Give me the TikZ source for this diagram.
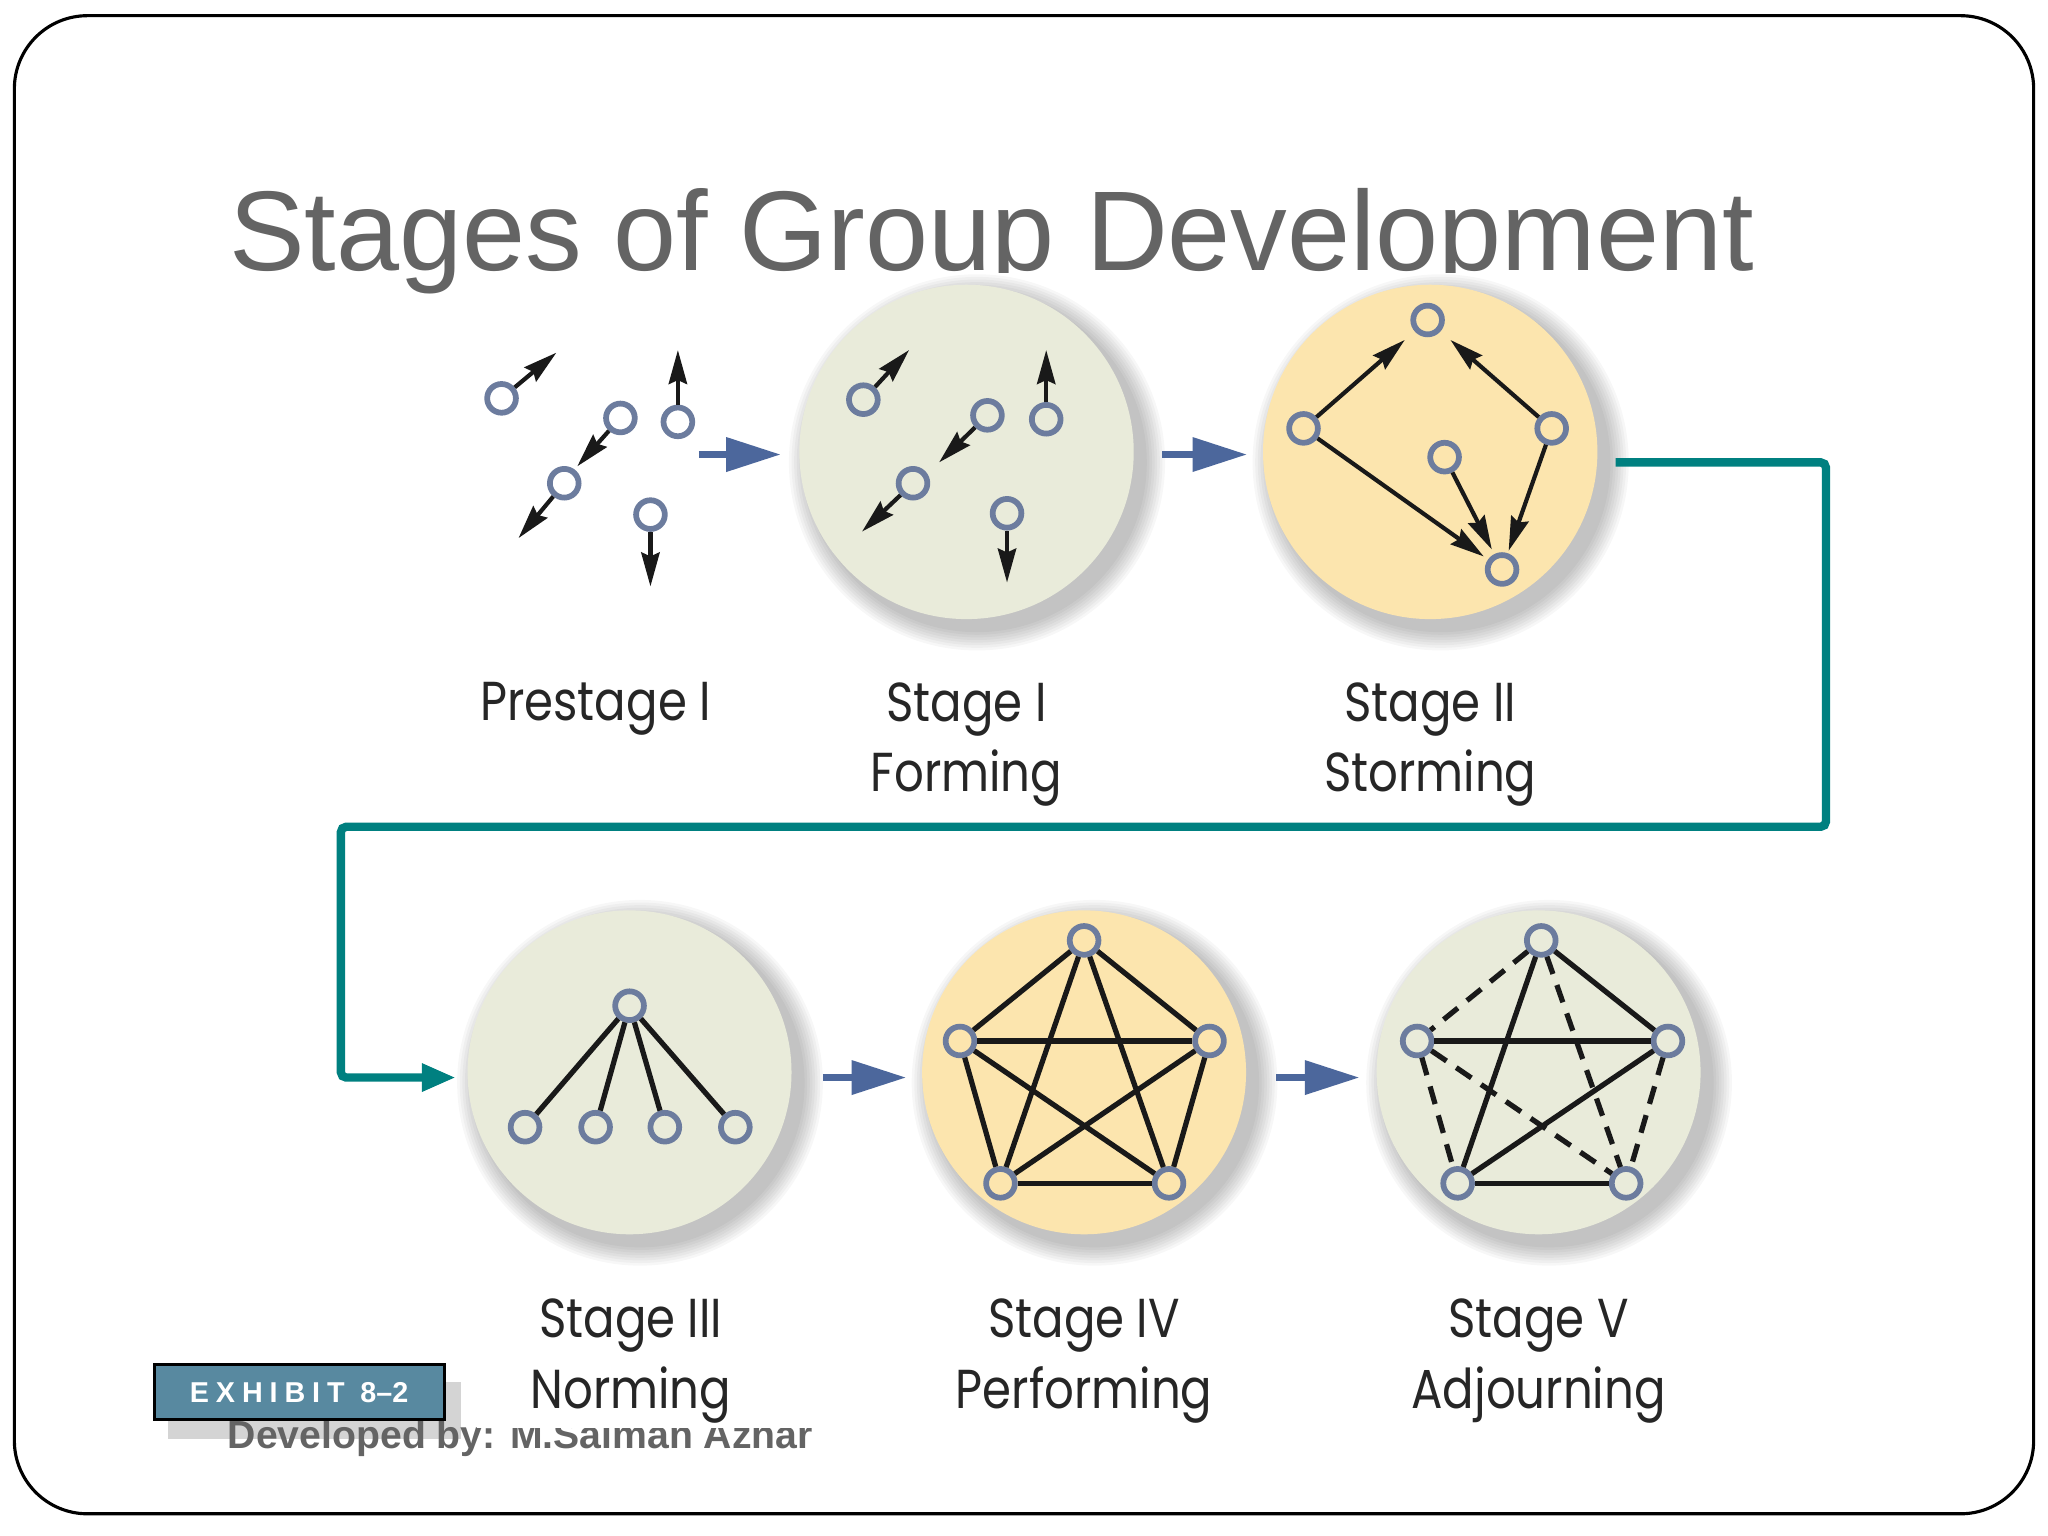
\documentclass[tikz,border=0pt]{standalone}
\usepackage{fontspec}
\setmainfont{Liberation Sans}
\newfontfamily\stagefont[FakeStretch=0.85]{Poppins}
\newfontfamily\tagfont[LetterSpace=24]{Liberation Sans}
\usetikzlibrary{positioning,arrows.meta}

\definecolor{slidegray}{RGB}{100,100,100}
\definecolor{sage}{RGB}{233,235,218}
\definecolor{cream}{RGB}{252,229,174}
\definecolor{ring}{RGB}{108,124,158}
\definecolor{flowblue}{RGB}{76,103,156}
\definecolor{trackteal}{RGB}{0,128,128}
\definecolor{tagblue}{RGB}{88,137,160}
\definecolor{tagshade}{RGB}{212,212,212}

\tikzset{
  member/.style={circle,draw=ring,line width=2.2pt,inner sep=0pt,minimum size=11pt},
  tie/.style={line width=2pt,black!90},
  loosetie/.style={tie,dash pattern=on 7pt off 4.5pt},
  move/.style={->,line width=1.6pt,black!90},
  flow/.style={-{Triangle[length=21pt,width=12.5pt]},line width=3pt,flowblue},
  track/.style={-{Triangle[length=13pt,width=10pt]},line width=3.2pt,trackteal,rounded corners=2pt},
  stagename/.style={align=center,inner sep=0pt,anchor=north,text=black!85,
    font=\stagefont\fontsize{21}{27}\selectfont},
}

\begin{document}
\begin{tikzpicture}[x=0.5pt,y=-0.5pt,>={Stealth[length=13pt,width=7pt,inset=1.5pt]}]
    \useasboundingbox (0,0) rectangle (1568,1176);
    \draw[line width=1.2pt,rounded corners=28pt,fill=white] (11,12) rectangle (1557,1159);

    \begin{scope}
      \clip (0,0) -- (1568,0) -- (1568,208.5) -- (600,208.5) -- (600,260) -- (0,260) -- cycle;
      \node[anchor=base west,inner sep=0pt,text=slidegray,font=\fontsize{43.4}{52}\selectfont]
        (title) at (175,207) {Stages of Group Development};
    \end{scope}

    \foreach \cx/\cy/\rr/\tint in {740/346/128/sage,1095/346/128/cream,
        482/821/124/sage,830/821/124/cream,1178/821/124/sage}{
      \foreach \k in {1,...,8}
        \fill[black,opacity=0.03] (\cx+8,\cy+8) circle[radius=\rr+2*\k];
      \fill[\tint] (\cx,\cy) circle[radius=\rr];
    }

    % prestage
    \node[member] (a1) at (384,305) {};
    \node[member] (a2) at (475,320) {};
    \node[member] (a3) at (519,323) {};
    \node[member] (a4) at (432,370) {};
    \node[member] (a5) at (498,394) {};
    \coordinate (a1e) at (426,270);
    \coordinate (a2e) at (442,357);
    \coordinate (a3e) at (519,268);
    \coordinate (a4e) at (397,412);
    \coordinate (a5e) at (498,449);
    \foreach \m in {a1,a2,a3,a4,a5}
      \draw[move] (\m) -- (\m e);

    % forming
    \node[member] (f1) at (661,306) {};
    \node[member] (f2) at (756,318) {};
    \node[member] (f3) at (801,321) {};
    \node[member] (f4) at (699,370) {};
    \node[member] (f5) at (771,393) {};
    \coordinate (f1e) at (696,268);
    \coordinate (f2e) at (719,354);
    \coordinate (f3e) at (801,268);
    \coordinate (f4e) at (660,407);
    \coordinate (f5e) at (771,446);
    \foreach \m in {f1,f2,f3,f4,f5}
      \draw[move] (\m) -- (\m e);

    % storming
    \node[member] (s1) at (1093,245) {};
    \node[member] (s2) at (998,328) {};
    \node[member] (s3) at (1188,328) {};
    \node[member] (s4) at (1106,350) {};
    \node[member] (s5) at (1150,436) {};
    \draw[move,shorten >=5pt] (s2) -- (s1);
    \draw[move,shorten >=5pt] (s3) -- (s1);
    \draw[move,shorten >=2pt] (s2) -- (s5);
    \draw[move,shorten >=2pt] (s4) -- (s5);
    \draw[move,shorten >=1pt] (s3) -- (s5);

    % norming
    \node[member] (n0) at (482,770) {};
    \node[member] (n1) at (402,863) {};
    \node[member] (n2) at (456,863) {};
    \node[member] (n3) at (509,863) {};
    \node[member] (n4) at (563,863) {};
    \foreach \m in {n1,n2,n3,n4}
      \draw[tie] (n0) -- (\m);

    % performing
    \node[member] (p1) at (830,720) {};
    \node[member] (p2) at (735,797) {};
    \node[member] (p3) at (926,797) {};
    \node[member] (p4) at (766,906) {};
    \node[member] (p5) at (895,906) {};
    \foreach \a/\b in {p1/p2,p1/p3,p2/p3,p1/p4,p1/p5,p2/p4,p3/p5,p2/p5,p3/p4,p4/p5}
      \draw[tie] (\a) -- (\b);

    % adjourning
    \node[member] (j1) at (1180,720) {};
    \node[member] (j2) at (1085,797) {};
    \node[member] (j3) at (1277,797) {};
    \node[member] (j4) at (1116,906) {};
    \node[member] (j5) at (1245,906) {};
    \foreach \a/\b in {j1/j3,j2/j3,j1/j4,j3/j4,j4/j5}
      \draw[tie] (\a) -- (\b);
    \foreach \a/\b in {j1/j2,j2/j4,j2/j5,j1/j5,j3/j5}
      \draw[loosetie] (\a) -- (\b);

    \coordinate (g1a) at (535,348);  \coordinate (g1b) at (598,348);
    \coordinate (g2a) at (890,348);  \coordinate (g2b) at (955,348);
    \coordinate (g3a) at (630,825);  \coordinate (g3b) at (694,825);
    \coordinate (g4a) at (977,825);  \coordinate (g4b) at (1041,825);
    \foreach \g in {g1,g2,g3,g4}
      \draw[flow] (\g a) -- (\g b);

    \coordinate (tstart) at (1237,354);
    \coordinate (tend) at (349,825);
    \draw[track] (tstart) -- (1398,354) -- (1398,633) -- (261,633) -- (261,825) -- (tend);

    \node[stagename] (prelabel) at (456,522) {Prestage I};
    \node[stagename] (formlabel) at (740,522) {Stage I\\Forming};
    \node[stagename] (stormlabel) at (1095,522) {Stage II\\Storming};
    \node[stagename] (normlabel) at (483,994) {Stage III\\Norming};
    \node[stagename] (perflabel) at (830,994) {Stage IV\\Performing};
    \node[stagename] (adjlabel) at (1178,994) {Stage V\\Adjourning};

    \fill[tagshade] (129,1058) rectangle (353,1102);
    \begin{scope}
      \clip (0,1000) -- (365,1000) -- (365,1093) -- (1568,1093) -- (1568,1176) -- (0,1176) -- cycle;
      \node[anchor=base west,inner sep=0pt,text=slidegray,font=\bfseries\fontsize{15}{18}\selectfont]
        (credit) at (174,1109) {Developed by: M.Salman Azhar};
    \end{scope}
    \node[draw=black,line width=1.2pt,fill=tagblue,minimum width=111pt,minimum height=21pt,
      inner sep=0pt,text=white,font=\bfseries\fontsize{11}{13}\selectfont]
      (exhibit) at (229,1066) {{\tagfont EXHIBIT}\hspace{6pt}8--2};
\end{tikzpicture}
\end{document}
